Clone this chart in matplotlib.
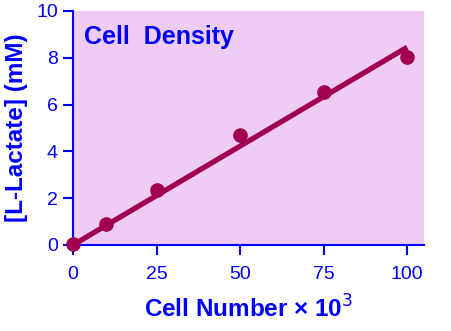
import matplotlib
matplotlib.use("Agg")
import matplotlib.pyplot as plt

cell_number = [0, 10, 25, 50, 75, 100]
lactate = [0.05, 0.88, 2.35, 4.7, 6.55, 8.05]
fit_x = [0, 100]
fit_y = [0, 8.45]
x_ticks = [0, 25, 50, 75, 100]
y_ticks = [0, 2, 4, 6, 8, 10]

blue = "#0000FF"
mark = "#A0004F"
bg = "#EECCF5"

plt.rcParams['font.family'] = ['Liberation Sans', 'DejaVu Sans']

fig = plt.figure(figsize=(4.51, 3.31), dpi=100)
ax = fig.add_axes([0.162, 0.26, 0.778, 0.707])
ax.set_facecolor(bg)
ax.plot(fit_x, fit_y, color=mark, lw=3.8, solid_capstyle='butt', zorder=3)
ax.plot(cell_number, lactate, 'o', color=mark, ms=9.5, clip_on=False, zorder=4)
ax.set_xlim(0, 105)
ax.set_ylim(0, 10)
ax.set_xticks(x_ticks)
ax.set_yticks(y_ticks)
for s in ['top', 'right']:
    ax.spines[s].set_visible(False)
for s in ['left', 'bottom']:
    ax.spines[s].set_color(blue)
    ax.spines[s].set_linewidth(1.5)
ax.tick_params(colors=blue, labelcolor=blue, labelsize=14, length=7, width=1.5, direction='out')
ax.tick_params(axis='x', pad=8)
ax.tick_params(axis='y', pad=4)
ax.set_xlabel("Cell Number \u00d7 10$^3$", color=blue, fontsize=17.5, fontweight='bold', labelpad=9)
ax.set_ylabel("[L-Lactate] (mM)", color=blue, fontsize=17.5, fontweight='bold', labelpad=6)
ax.text(0.03, 0.94, "Cell  Density", transform=ax.transAxes, color=blue, fontsize=18,
        fontweight='bold', va='top', ha='left')
fig.savefig("out.png", dpi=100)
